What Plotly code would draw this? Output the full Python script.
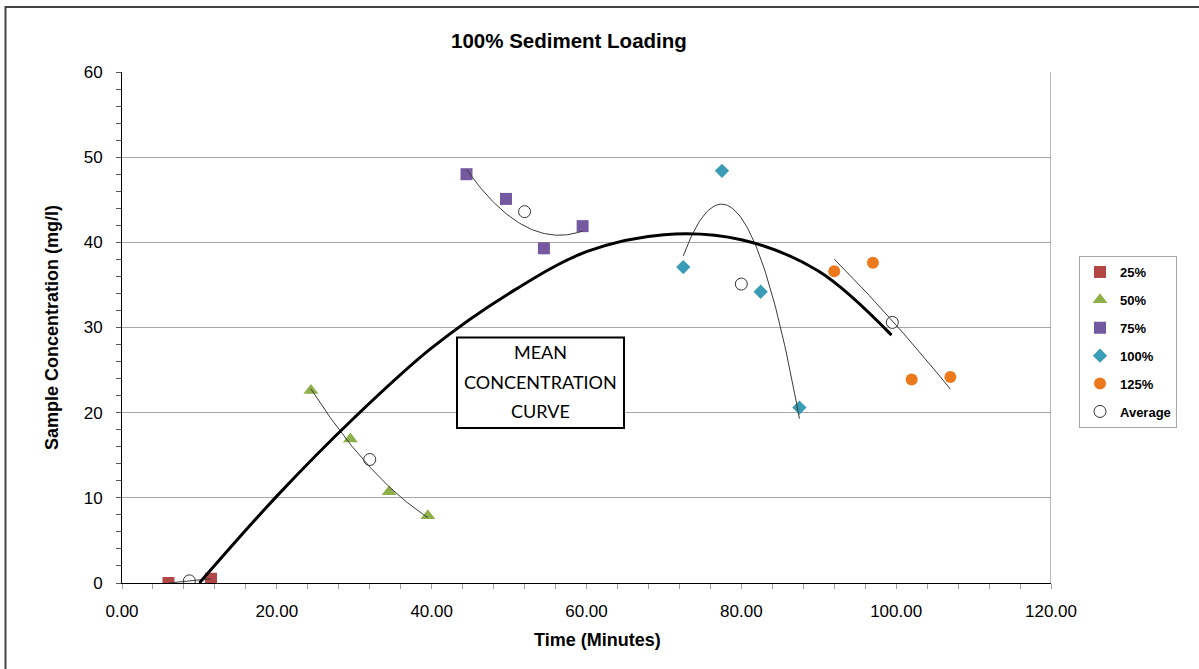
import numpy as np
import plotly.graph_objects as go

# ---- data ----
t25 = [6.0, 11.5]
c25 = [0.0, 0.5]
t50 = [24.4, 29.5, 34.5, 39.5]
c50 = [22.6, 16.9, 10.7, 7.9]
t75 = [44.5, 49.6, 54.5, 59.5]
c75 = [48.0, 45.1, 39.3, 41.9]
t100 = [72.5, 77.5, 82.5, 87.5]
c100 = [37.1, 48.4, 34.2, 20.6]
t125 = [92.0, 97.0, 102.0, 107.0]
c125 = [36.6, 37.6, 23.9, 24.2]
t_avg = [8.7, 32.0, 52.0, 80.0, 99.5]
c_avg = [0.25, 14.5, 43.6, 35.1, 30.6]

# mean concentration curve
mean_t = [10.0, 20.0, 30.0, 40.0, 50.0, 60.0, 70.0, 80.0, 90.0, 99.4]
mean_c = [0.0, 10.2, 19.4, 27.6, 34.0, 38.9, 40.9, 40.3, 36.6, 29.1]

series = [
    ("25%", t25, c25, "square", "#B34745", 12, 1),
    ("50%", t50, c50, "triangle-up", "#8DB04A", 13, 2),
    ("75%", t75, c75, "square", "#7559A0", 12, 2),
    ("100%", t100, c100, "diamond", "#3A9DB5", 11, 2),
    ("125%", t125, c125, "circle", "#EC7A1C", 12, 2),
]

FONT = "Liberation Sans, Arial, sans-serif"
fig = go.Figure()

for name, tx, cy, sym, col, sz, deg in series:
    fig.add_trace(go.Scatter(
        x=tx, y=cy, mode="markers", name=name, legendgroup=name,
        marker=dict(symbol=sym, color=col, size=sz, line=dict(width=0)),
    ))

fig.add_trace(go.Scatter(
    x=t_avg, y=c_avg, mode="markers", name="Average", legendgroup="avg",
    marker=dict(symbol="circle", color="white", size=12,
                line=dict(color="#333333", width=1)),
))

# polynomial trendlines (as in the spreadsheet)
for name, tx, cy, sym, col, sz, deg in series:
    coef = np.polyfit(tx, cy, deg)
    xs = np.linspace(min(tx), max(tx), 80)
    fig.add_trace(go.Scatter(
        x=xs, y=np.polyval(coef, xs), mode="lines", showlegend=False,
        hoverinfo="skip", line=dict(color="#3a3a3a", width=1),
    ))

fig.add_trace(go.Scatter(
    x=mean_t, y=mean_c, mode="lines", showlegend=False,
    line=dict(color="black", width=3, shape="spline", smoothing=1.0),
))

W, H = 1199, 669
L, T = 122, 72
R = W - 1051
B = H - 583
PW = W - L - R
PH = H - T - B


def px_x(p):
    return (p - L) / PW


def px_y(p):
    return (H - B - p) / PH


fig.update_layout(
    width=W, height=H,
    margin=dict(l=L, r=R, t=T, b=B),
    paper_bgcolor="white", plot_bgcolor="white",
    font=dict(family=FONT, color="black"),
    showlegend=True,
    legend=dict(
        x=px_x(1079), xanchor="left", y=px_y(256), yanchor="top",
        bordercolor="#A6A6A6", borderwidth=1, bgcolor="white",
        font=dict(family=FONT, size=13, color="black", weight="bold"),
        tracegroupgap=8, itemwidth=30,
    ),
    xaxis=dict(
        range=[0, 120], dtick=20, tickformat=".2f", showgrid=False,
        zeroline=False, showline=True, linecolor="black", linewidth=1,
        ticks="outside", ticklen=5, tickcolor="#A0A0A0",
        minor=dict(dtick=4, ticks="outside", ticklen=5, tickcolor="#A0A0A0"),
        tickfont=dict(size=17, family=FONT), ticklabelstandoff=8,
        fixedrange=True,
    ),
    yaxis=dict(
        range=[0, 60], dtick=10, showgrid=True, gridcolor="#A6A6A6",
        gridwidth=1, zeroline=False, showline=True, linecolor="black",
        linewidth=1, ticks="outside", ticklen=5, tickcolor="#555555",
        minor=dict(dtick=2, ticks="outside", ticklen=5, tickcolor="#555555",
                   showgrid=False),
        tickfont=dict(size=17, family=FONT), ticklabelstandoff=10,
        fixedrange=True,
    ),
)

shapes = [
    dict(type="line", xref="x", yref="y", x0=120, x1=120, y0=0, y1=60,
         line=dict(color="#A0A0A0", width=1.5)),
    dict(type="rect", xref="paper", yref="paper",
         x0=px_x(5.5), x1=px_x(1260), y0=px_y(720), y1=px_y(7),
         line=dict(color="#444444", width=2), layer="below"),
    dict(type="rect", xref="paper", yref="paper",
         x0=px_x(457), x1=px_x(624), y0=px_y(428), y1=px_y(337.5),
         line=dict(color="black", width=2), fillcolor="white", layer="above"),
]
fig.update_layout(shapes=shapes)

annotations = [
    dict(text="<b>100% Sediment Loading</b>", xref="paper", yref="paper",
         x=px_x(569), y=px_y(40), showarrow=False, xanchor="center",
         yanchor="middle", font=dict(size=20.5, family=FONT)),
    dict(text="<b>Time (Minutes)</b>", xref="paper", yref="paper",
         x=px_x(597), y=px_y(640), showarrow=False, xanchor="center",
         yanchor="middle", font=dict(size=18, family=FONT)),
    dict(text="<b>Sample Concentration (mg/l)</b>", xref="paper", yref="paper",
         x=px_x(52), y=px_y(328), showarrow=False, xanchor="center",
         yanchor="middle", textangle=-90, font=dict(size=18, family=FONT)),
]
for txt, yy in [("MEAN", 352), ("CONCENTRATION", 382), ("CURVE", 411)]:
    annotations.append(dict(
        text=txt, xref="paper", yref="paper", x=px_x(540.5), y=px_y(yy),
        showarrow=False, xanchor="center", yanchor="middle",
        font=dict(size=18, family="Lato, Open Sans, sans-serif")))
fig.update_layout(annotations=annotations)

fig.write_html(
    "out.html",
    config={"displayModeBar": False},
    post_script="document.body.style.margin='0';"
                "document.body.style.overflow='hidden';"
                "document.documentElement.style.overflow='hidden';",
)
